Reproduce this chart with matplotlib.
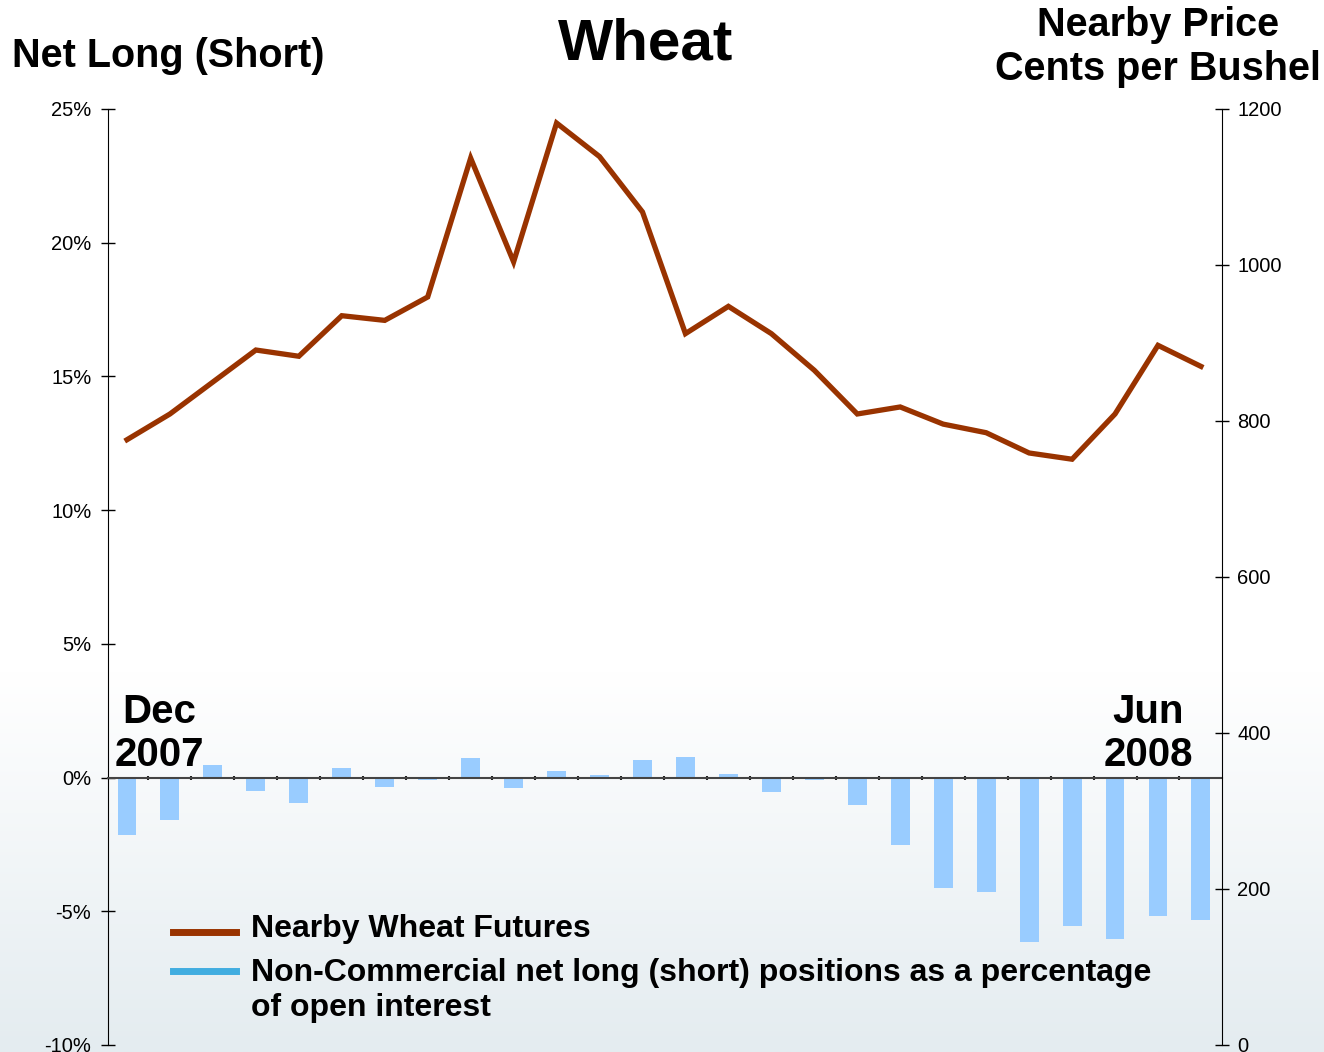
import numpy as np
import matplotlib
matplotlib.use("Agg")
import matplotlib.pyplot as plt
from matplotlib.lines import Line2D
from matplotlib.colors import LinearSegmentedColormap

plt.rcParams['font.family'] = ['Liberation Sans', 'DejaVu Sans']

# weekly observations, Dec 2007 .. Jun 2008
net_long_pct = [-2.15, -1.6, 0.47, -0.49, -0.96, 0.36, -0.34, -0.09, 0.75, -0.4,
                0.26, 0.1, 0.66, 0.76, 0.12, -0.55, -0.08, -1.02, -2.53, -4.12,
                -4.28, -6.15, -5.56, -6.05, -5.19, -5.31]
price_cents = [776, 809, 850, 891, 883, 935, 929, 959, 1137, 1004,
               1182, 1139, 1068, 912, 947, 912, 865, 809, 818, 796,
               785, 759, 751, 809, 897, 870]

left_ticks = [-10, -5, 0, 5, 10, 15, 20, 25]
right_ticks = [0, 200, 400, 600, 800, 1000, 1200]

W, H = 1324, 1052
fig = plt.figure(figsize=(W / 100, H / 100), dpi=100)

# soft gradient background toward the bottom
bg = fig.add_axes([0, 0, 1, 1], zorder=-10)
rows = np.linspace(0, 1, 400)
grad = np.clip((rows - 0.64) / 0.36, 0, 1)
cmap = LinearSegmentedColormap.from_list("bg", ["#ffffff", "#e4ecf0"])
bg.imshow(grad[:, None], aspect='auto', cmap=cmap, extent=[0, 1, 0, 1], vmin=0, vmax=1)
bg.axis('off')

ax = fig.add_axes([108 / W, 7 / H, (1222 - 108) / W, (1045 - 109) / H])
ax.patch.set_alpha(0)
x = np.arange(len(net_long_pct))
ax.bar(x, net_long_pct, width=0.44, color='#99ccff', zorder=2)
ax.set_xlim(-0.442, 25.49)
ax.set_ylim(-10, 25)
ax.set_yticks(left_ticks)
ax.set_yticklabels([f"{t}%" for t in left_ticks], fontsize=14.5)
ax.tick_params(axis='y', direction='inout', length=10, width=1, pad=7)

ax.spines['top'].set_visible(False)
ax.spines['right'].set_visible(False)
ax.spines['bottom'].set_position(('data', 0))
ax.spines['bottom'].set_color('#444444')
ax.spines['bottom'].set_linewidth(1.5)
ax.spines['bottom'].set_zorder(3)
ax.set_xticks(x[:-1] + 0.5)
ax.set_xticklabels([])
ax.tick_params(axis='x', direction='inout', length=3, width=1.5, color='#222222')

ax2 = ax.twinx()
ax2.plot(x, price_cents, color='#993300', lw=3.8, solid_joinstyle='miter', zorder=4)
ax2.set_ylim(0, 1200)
ax2.set_yticks(right_ticks)
ax2.set_yticklabels([str(t) for t in right_ticks], fontsize=14.5)
ax2.tick_params(axis='y', direction='inout', length=10, width=1, pad=6)
for s in ['top', 'left', 'bottom']:
    ax2.spines[s].set_visible(False)


def ftext(px, py, s, **kw):
    fig.text(px / W, 1 - py / H, s, **kw)


ftext(646, 45, "Wheat", fontsize=42, fontweight='bold', ha='center', va='center')
ftext(12, 56, "Net Long (Short)", fontsize=28.5, fontweight='bold', ha='left', va='center')
ftext(1158, 25, "Nearby Price", fontsize=28.5, fontweight='bold', ha='center', va='center')
ftext(1158, 69, "Cents per Bushel", fontsize=28.5, fontweight='bold', ha='center', va='center')

ftext(159, 712, "Dec", fontsize=29, fontweight='bold', ha='center', va='center')
ftext(159, 755, "2007", fontsize=29, fontweight='bold', ha='center', va='center')
ftext(1148, 712, "Jun", fontsize=29, fontweight='bold', ha='center', va='center')
ftext(1148, 755, "2008", fontsize=29, fontweight='bold', ha='center', va='center')

# legend drawn by hand so the blue key sits on the first text line
fig.add_artist(Line2D([173 / W, 236 / W], [1 - 932 / H] * 2, color='#993300', lw=5))
fig.add_artist(Line2D([173 / W, 236 / W], [1 - 971 / H] * 2, color='#41ade0', lw=5))
ftext(251, 929, "Nearby Wheat Futures", fontsize=23, fontweight='bold', ha='left', va='center')
ftext(251, 973, "Non-Commercial net long (short) positions as a percentage",
      fontsize=23, fontweight='bold', ha='left', va='center')
ftext(251, 1008, "of open interest", fontsize=23, fontweight='bold', ha='left', va='center')

fig.savefig("out.png", dpi=100)
